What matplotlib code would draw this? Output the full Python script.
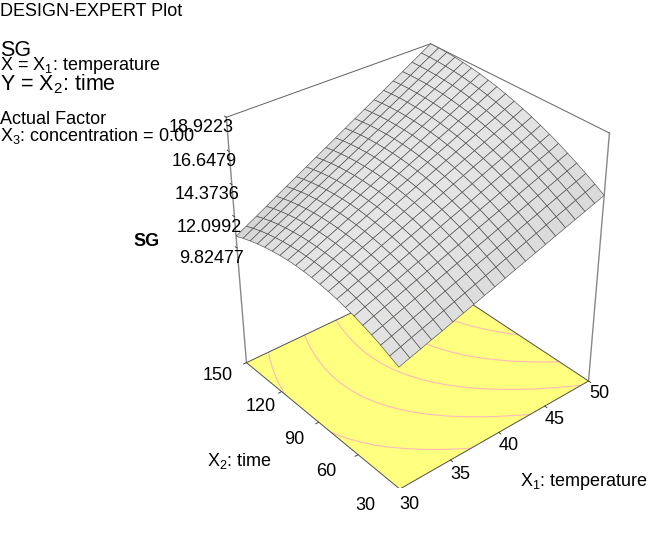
import numpy as np
import matplotlib
matplotlib.use('Agg')
import matplotlib.pyplot as plt
from mpl_toolkits.mplot3d import proj3d

plt.rcParams['font.family'] = ['Liberation Sans', 'DejaVu Sans']
plt.rcParams['mathtext.fontset'] = 'custom'
plt.rcParams['mathtext.rm'] = 'Liberation Sans'
plt.rcParams['mathtext.default'] = 'rm'

W, H = 663, 537
x1_ticks = [30, 35, 40, 45, 50]
x2_ticks = [30, 60, 90, 120, 150]
z_ticks = [9.82477, 12.0992, 14.3736, 16.6479, 18.9223]
z_floor = 0.9
levels = [11.6, 13.15, 14.55, 16.05, 17.5]

x1_values = [30, 31, 32, 33, 34, 35, 36, 37, 38, 39, 40, 41, 42, 43, 44, 45, 46, 47, 48, 49, 50]
x2_values = [30, 36, 42, 48, 54, 60, 66, 72, 78, 84, 90, 96, 102, 108, 114, 120, 126, 132, 138, 144, 150]
# SG: one row per x2 value, one column per x1 value
sg_values = [
    [9.85, 10.10, 10.34, 10.59, 10.83, 11.08, 11.33, 11.57, 11.82, 12.06, 12.31, 12.56, 12.80, 13.05, 13.29, 13.54, 13.79, 14.03, 14.28, 14.52, 14.77],
    [10.16, 10.41, 10.67, 10.92, 11.17, 11.42, 11.67, 11.92, 12.17, 12.42, 12.67, 12.92, 13.17, 13.42, 13.67, 13.92, 14.17, 14.42, 14.67, 14.92, 15.18],
    [10.45, 10.70, 10.96, 11.22, 11.47, 11.73, 11.98, 12.24, 12.49, 12.75, 13.00, 13.26, 13.51, 13.77, 14.03, 14.28, 14.54, 14.79, 15.05, 15.30, 15.56],
    [10.71, 10.97, 11.23, 11.49, 11.75, 12.01, 12.27, 12.53, 12.79, 13.05, 13.31, 13.57, 13.84, 14.10, 14.36, 14.62, 14.88, 15.14, 15.40, 15.66, 15.92],
    [10.93, 11.20, 11.47, 11.73, 12.00, 12.27, 12.53, 12.80, 13.07, 13.33, 13.60, 13.87, 14.13, 14.40, 14.66, 14.93, 15.20, 15.46, 15.73, 16.00, 16.26],
    [11.13, 11.41, 11.68, 11.95, 12.22, 12.50, 12.77, 13.04, 13.31, 13.59, 13.86, 14.13, 14.41, 14.68, 14.95, 15.22, 15.50, 15.77, 16.04, 16.31, 16.59],
    [11.30, 11.58, 11.86, 12.14, 12.42, 12.70, 12.98, 13.26, 13.54, 13.82, 14.10, 14.37, 14.65, 14.93, 15.21, 15.49, 15.77, 16.05, 16.33, 16.61, 16.89],
    [11.45, 11.73, 12.02, 12.30, 12.59, 12.88, 13.16, 13.45, 13.73, 14.02, 14.31, 14.59, 14.88, 15.16, 15.45, 15.74, 16.02, 16.31, 16.59, 16.88, 17.17],
    [11.56, 11.85, 12.15, 12.44, 12.73, 13.03, 13.32, 13.61, 13.91, 14.20, 14.49, 14.79, 15.08, 15.37, 15.67, 15.96, 16.25, 16.55, 16.84, 17.13, 17.43],
    [11.64, 11.95, 12.25, 12.55, 12.85, 13.15, 13.45, 13.75, 14.05, 14.35, 14.65, 14.96, 15.26, 15.56, 15.86, 16.16, 16.46, 16.76, 17.06, 17.36, 17.67],
    [11.70, 12.01, 12.32, 12.63, 12.94, 13.25, 13.55, 13.86, 14.17, 14.48, 14.79, 15.10, 15.41, 15.72, 16.03, 16.34, 16.65, 16.96, 17.26, 17.57, 17.88],
    [11.73, 12.05, 12.36, 12.68, 13.00, 13.32, 13.63, 13.95, 14.27, 14.59, 14.90, 15.22, 15.54, 15.86, 16.17, 16.49, 16.81, 17.13, 17.44, 17.76, 18.08],
    [11.73, 12.05, 12.38, 12.71, 13.03, 13.36, 13.69, 14.01, 14.34, 14.67, 14.99, 15.32, 15.64, 15.97, 16.30, 16.62, 16.95, 17.28, 17.60, 17.93, 18.26],
    [11.70, 12.03, 12.37, 12.70, 13.04, 13.38, 13.71, 14.05, 14.38, 14.72, 15.05, 15.39, 15.73, 16.06, 16.40, 16.73, 17.07, 17.41, 17.74, 18.08, 18.41],
    [11.64, 11.98, 12.33, 12.68, 13.02, 13.37, 13.71, 14.06, 14.40, 14.75, 15.09, 15.44, 15.78, 16.13, 16.47, 16.82, 17.17, 17.51, 17.86, 18.20, 18.55],
    [11.55, 11.91, 12.26, 12.62, 12.98, 13.33, 13.69, 14.04, 14.40, 14.75, 15.11, 15.46, 15.82, 16.17, 16.53, 16.88, 17.24, 17.60, 17.95, 18.31, 18.66],
    [11.44, 11.80, 12.17, 12.53, 12.90, 13.27, 13.63, 14.00, 14.36, 14.73, 15.10, 15.46, 15.83, 16.19, 16.56, 16.92, 17.29, 17.66, 18.02, 18.39, 18.75],
    [11.29, 11.67, 12.05, 12.42, 12.80, 13.18, 13.55, 13.93, 14.31, 14.68, 15.06, 15.44, 15.81, 16.19, 16.57, 16.94, 17.32, 17.70, 18.07, 18.45, 18.83],
    [11.12, 11.51, 11.90, 12.28, 12.67, 13.06, 13.45, 13.84, 14.22, 14.61, 15.00, 15.39, 15.78, 16.16, 16.55, 16.94, 17.33, 17.71, 18.10, 18.49, 18.88],
    [10.92, 11.32, 11.72, 12.12, 12.52, 12.92, 13.32, 13.72, 14.12, 14.52, 14.92, 15.31, 15.71, 16.11, 16.51, 16.91, 17.31, 17.71, 18.11, 18.51, 18.91],
    [10.69, 11.10, 11.51, 11.92, 12.34, 12.75, 13.16, 13.57, 13.98, 14.39, 14.80, 15.22, 15.63, 16.04, 16.45, 16.86, 17.27, 17.68, 18.10, 18.51, 18.92],
]

Z = np.array(sg_values)
X1, X2 = np.meshgrid(x1_values, x2_values)

fig = plt.figure(figsize=(W / 100, H / 100), dpi=100)
ax = fig.add_axes([0, 0, 1, 1], projection='3d', computed_zorder=False)
ax.set_xlim(30, 50, view_margin=0)
ax.set_ylim(30, 150, view_margin=0)
ax.set_zlim(z_floor, 18.9223, view_margin=0)
ax.set_axis_off()
el, az, f, ry, rz = 33.2754, -130.0788, 0.5816, 1.0020, 1.1476
s, ox, oy = 2450.6, 416.0, 281.6
ax.view_init(el, az)
ax.set_proj_type('persp', focal_length=f)
ax.set_box_aspect((1, ry, rz))
xmin, xmax = ax.viewLim.intervalx
ymin, ymax = ax.viewLim.intervaly
size = s * (xmax - xmin)
ax.set_position([(ox + xmin * s) / W, (oy + ymin * s) / H, size / W, s * (ymax - ymin) / H])
M = ax.get_proj()

# floor
fx, fy = np.meshgrid([30, 50], [30, 150])
ax.plot_surface(fx, fy, np.full_like(fx, z_floor, dtype=float), color='#FFFF80', shade=False, zorder=1, linewidth=0)
ax.contour(X1, X2, Z, levels=levels, zdir='z', offset=z_floor, colors='#FFB9B9', linewidths=.8, zorder=2)
grayline = '#888888'
dark = '#505050'
ax.plot([30, 50], [30, 30], [z_floor] * 2, color=dark, lw=.7, zorder=3)
ax.plot([30, 30], [30, 150], [z_floor] * 2, color=dark, lw=.7, zorder=3)
ax.plot([30, 50], [150, 150], [z_floor] * 2, color=dark, lw=.7, zorder=3)
ax.plot([50, 50], [30, 150], [z_floor] * 2, color=dark, lw=.7, zorder=3)
ax.plot([30, 30], [150, 150], [z_floor, 18.9223], color=grayline, lw=1, zorder=3)
ax.plot([50, 50], [30, 30], [z_floor, 18.9223], color=grayline, lw=1, zorder=3)
ax.plot([30, 50], [150, 150], [18.9223] * 2, color='#606060', lw=.7, zorder=3)
ax.plot([50, 50], [30, 150], [18.9223] * 2, color='#606060', lw=.7, zorder=3)
for t in x1_ticks:
    ax.plot([t, t], [30, 28.5], [z_floor] * 2, color='#303030', lw=.6, zorder=3)
for t in x2_ticks:
    ax.plot([30, 29.7], [t, t], [z_floor] * 2, color='#303030', lw=.6, zorder=3)
for t in z_ticks:
    ax.plot([30, 30], [150, 151.5], [t, t], color='#303030', lw=.6, zorder=3)

Zu = np.diff(Z, axis=1)[:-1, :] * 20
Zv = np.diff(Z, axis=0)[:, :-1] * 20
k = rz / (18.9223 - z_floor)
ny = -Zv * k / ry / np.sqrt(1 + (Zu * k) ** 2 + (Zv * k / ry) ** 2)
g = np.clip(.90 - .45 * (ny + .12) ** 2, 0, 1)
fc = np.dstack([g, g, g, np.ones_like(g)])
ax.plot_surface(X1, X2, Z, rstride=1, cstride=1, facecolors=fc, shade=False,
                edgecolor='#505050', linewidth=.45, zorder=4)


def label(x, y, z, s, **kw):
    px, py, _ = proj3d.proj_transform(x, y, z, M)
    ax.text2D(px, py, s, transform=ax.transData, va='center', fontsize=13, zorder=6, **kw)


for t in x1_ticks:
    label(t - .5, 20.0, z_floor, str(t), ha='center')
x2_label_nudge = {30: (-.24, 2.1), 60: (-.19, .95), 90: (.11, -1.5), 120: (.43, -2.2), 150: (.02, 1.7)}
for t in x2_ticks:
    dx1, dx2 = x2_label_nudge[t]
    label(27.2 + dx1, t - .7 + dx2, z_floor, str(t), ha='center')
for t in z_ticks:
    label(29.69, 141.4, t - .1, f'{t:g}', ha='right')


def T(px, py, s, **kw):
    kw.setdefault('fontsize', 13)
    kw.setdefault('va', 'center')
    fig.text(px / W, 1 - py / H, s, **kw)


T(0, 12, 'DESIGN-EXPERT Plot')
T(0, 50, 'SG', fontsize=15.5)
T(0, 65, r'X = X$_{1}$: temperature')
T(0, 84, r'Y = X$_{2}$: time', fontsize=15.5)
T(0, 119, 'Actual Factor')
T(0, 136, r'X$_{3}$: concentration = 0.00')
T(147, 241, 'SG', fontweight='bold', ha='center')
T(207, 461, r'X$_{2}$: time')
T(520, 482, r'X$_{1}$: temperature')
fig.savefig('out.png', dpi=100)
